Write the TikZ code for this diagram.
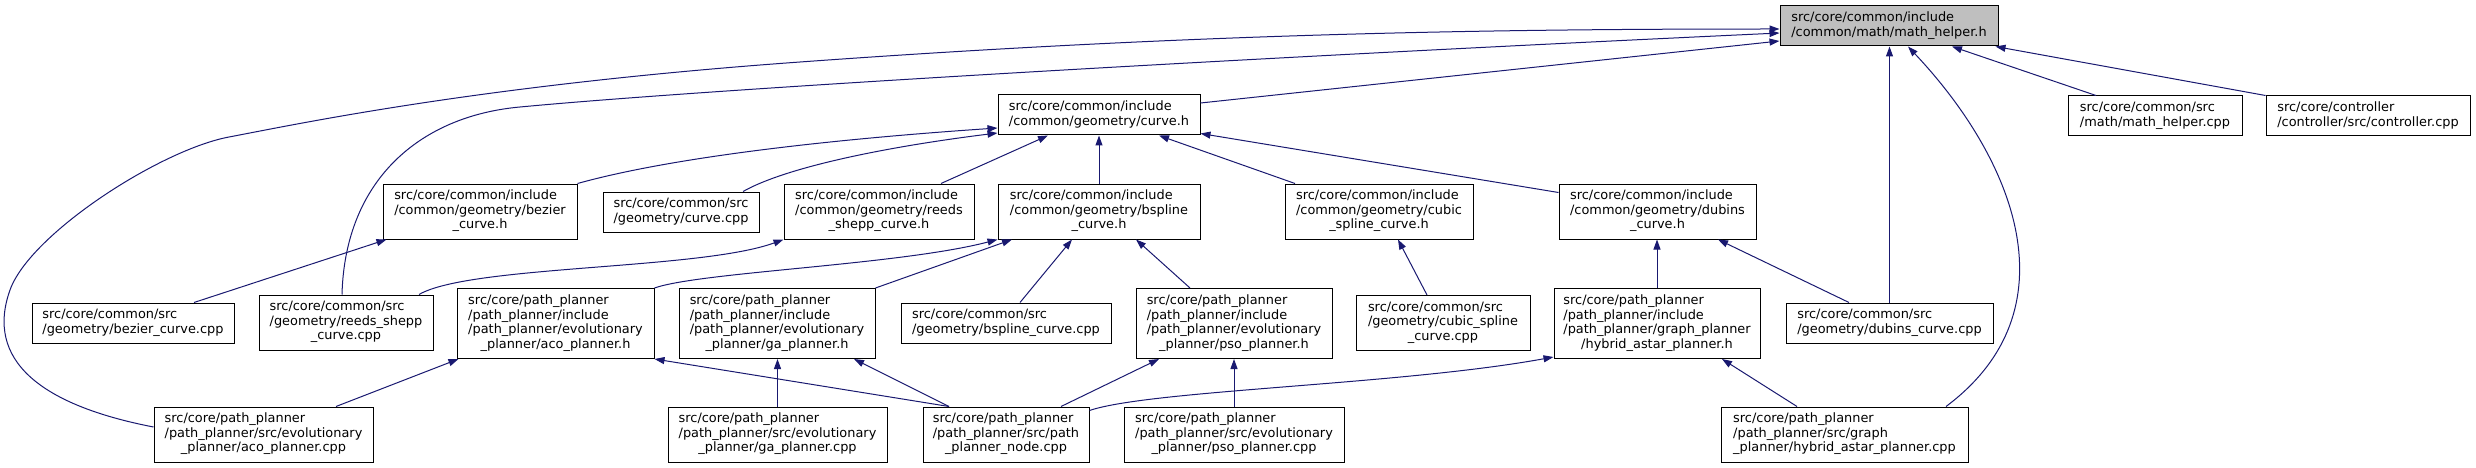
\documentclass[tikz,border=0pt]{standalone}
\usepackage{fontspec}
\setmainfont{DejaVu Sans}
\usetikzlibrary{arrows.meta, calc}
\definecolor{edgeblue}{HTML}{191970}
\definecolor{curgrey}{HTML}{BFBFBF}
\newcommand{\flab}[2]{\begin{tabular}{@{}l@{}}#1\\\multicolumn{1}{@{}c@{}}{#2}\end{tabular}}

\begin{document}
\begin{tikzpicture}[
    x=1pt, y=-1pt,
    filebox/.style={draw=black, line width=1pt, fill=white, inner sep=0pt,
        font=\fontsize{12.9}{14.5}\selectfont},
    sz/.style 2 args={minimum width=#1pt, minimum height=#2pt},
    dep/.style={-{Triangle[length=10pt, width=7pt]}, draw=edgeblue, fill=none,
        line width=1pt}
]
\useasboundingbox (0,0) rectangle (2476,468);

\node[filebox, sz={218}{40}, fill=curgrey] (mathh) at (1889,26)
    {\flab{src/core/common/include}{/common/math/math\_helper.h}};
\node[filebox, sz={202}{40}] (curveh) at (1099,115)
    {\flab{src/core/common/include}{/common/geometry/curve.h}};
\node[filebox, sz={174}{40}] (mathcpp) at (2155,116)
    {\flab{src/core/common/src}{/math/math\_helper.cpp}};
\node[filebox, sz={204}{40}] (ctrlcpp) at (2368,116)
    {\flab{src/core/controller}{/controller/src/controller.cpp}};

\node[filebox, sz={194}{55}] (bezh) at (480,211.5)
    {\flab{src/core/common/include\\/common/geometry/bezier}{\_curve.h}};
\node[filebox, sz={156}{40}] (curvecpp) at (681,212)
    {\flab{src/core/common/src}{/geometry/curve.cpp}};
\node[filebox, sz={190}{55}] (reedsh) at (879,211.5)
    {\flab{src/core/common/include\\/common/geometry/reeds}{\_shepp\_curve.h}};
\node[filebox, sz={202}{55}] (bsplh) at (1099,211.5)
    {\flab{src/core/common/include\\/common/geometry/bspline}{\_curve.h}};
\node[filebox, sz={188}{55}] (cubich) at (1379,211.5)
    {\flab{src/core/common/include\\/common/geometry/cubic}{\_spline\_curve.h}};
\node[filebox, sz={197}{55}] (dubinsh) at (1657.5,211.5)
    {\flab{src/core/common/include\\/common/geometry/dubins}{\_curve.h}};

\node[filebox, sz={202}{40}] (bezcpp) at (133,323)
    {\flab{src/core/common/src}{/geometry/bezier\_curve.cpp}};
\node[filebox, sz={174}{55}] (reedscpp) at (346,322.5)
    {\flab{src/core/common/src\\/geometry/reeds\_shepp}{\_curve.cpp}};
\node[filebox, sz={197}{70}] (acoh) at (555.5,323.5)
    {\flab{src/core/path\_planner\\/path\_planner/include\\/path\_planner/evolutionary}{\_planner/aco\_planner.h}};
\node[filebox, sz={196}{70}] (gah) at (777,323.5)
    {\flab{src/core/path\_planner\\/path\_planner/include\\/path\_planner/evolutionary}{\_planner/ga\_planner.h}};
\node[filebox, sz={210}{40}] (bsplcpp) at (1006,323)
    {\flab{src/core/common/src}{/geometry/bspline\_curve.cpp}};
\node[filebox, sz={196}{70}] (psoh) at (1234,323.5)
    {\flab{src/core/path\_planner\\/path\_planner/include\\/path\_planner/evolutionary}{\_planner/pso\_planner.h}};
\node[filebox, sz={174}{55}] (cubiccpp) at (1443,323)
    {\flab{src/core/common/src\\/geometry/cubic\_spline}{\_curve.cpp}};
\node[filebox, sz={206}{70}] (hybridh) at (1657,323.5)
    {\flab{src/core/path\_planner\\/path\_planner/include\\/path\_planner/graph\_planner}{/hybrid\_astar\_planner.h}};
\node[filebox, sz={207}{40}] (dubinscpp) at (1889.5,323)
    {\flab{src/core/common/src}{/geometry/dubins\_curve.cpp}};

\node[filebox, sz={219}{55}] (acocpp) at (263.5,434.5)
    {\flab{src/core/path\_planner\\/path\_planner/src/evolutionary}{\_planner/aco\_planner.cpp}};
\node[filebox, sz={219}{55}] (gacpp) at (777.5,434.5)
    {\flab{src/core/path\_planner\\/path\_planner/src/evolutionary}{\_planner/ga\_planner.cpp}};
\node[filebox, sz={166}{55}] (nodecpp) at (1006,434.5)
    {\flab{src/core/path\_planner\\/path\_planner/src/path}{\_planner\_node.cpp}};
\node[filebox, sz={220}{55}] (psocpp) at (1234,434.5)
    {\flab{src/core/path\_planner\\/path\_planner/src/evolutionary}{\_planner/pso\_planner.cpp}};
\node[filebox, sz={247}{55}] (hybridcpp) at (1844.5,434.5)
    {\flab{src/core/path\_planner\\/path\_planner/src/graph}{\_planner/hybrid\_astar\_planner.cpp}};

\draw[dep] ($(curveh.east)+(0,-12)$) -- ($(mathh.west)+(0,15)$);
\draw[dep] ($(reedscpp.north)+(-4,0)$) .. controls (345,180) and (420,116) .. (520,107)
    .. controls (700,90) and (1200,60) .. ($(mathh.west)+(0,7)$);
\draw[dep] ($(acocpp.west)+(0,-7.5)$) .. controls (40,405) and (-15,360) .. (10,290)
    .. controls (30,234) and (160,150) .. (229,137)
    .. controls (298,124) and (480,85) .. (800,62)
    .. controls (1200,33) and (1500,29) .. ($(mathh.west)+(0,3)$);
\draw[dep] ($(mathcpp.north)+(-59,0)$) -- ($(mathh.south)+(63,0)$);
\draw[dep] (ctrlcpp.north west) -- ($(mathh.south east)+(-3,0)$);
\draw[dep] (dubinscpp.north) -- (dubinscpp.north |- mathh.south);
\draw[dep] ($(hybridcpp.north)+(101.5,0)$) .. controls (2075,310) and (2015,160) .. ($(mathh.south)+(19,0)$);

\draw[dep] (bezh.north east) .. controls (680,155) and (850,138) .. ($(curveh.west)+(0,13)$);
\draw[dep] ($(curvecpp.north)+(62,0)$) .. controls (790,165) and (900,145) .. ($(curveh.west)+(0,18)$);
\draw[dep] ($(reedsh.north)+(62,0)$) -- ($(curveh.south)+(-51,0)$);
\draw[dep] (bsplh.north) -- (curveh.south);
\draw[dep] ($(cubich.north)+(-84,0)$) -- ($(curveh.south)+(60,0)$);
\draw[dep] ($(dubinsh.north west)+(0,9)$) -- ($(curveh.south east)+(0,-2)$);

\draw[dep] ($(bezcpp.north)+(61,0)$) -- ($(bezh.south west)+(4,0)$);
\draw[dep] ($(reedscpp.north)+(73,0)$) .. controls (470,265) and (700,270) .. (reedsh.south west);
\draw[dep] (acoh.north east) .. controls (700,272) and (900,265) .. (bsplh.south west);
\draw[dep] (gah.north east) -- ($(bsplh.south)+(-87,0)$);
\draw[dep] ($(bsplcpp.north)+(14,0)$) -- ($(bsplh.south)+(-27,0)$);
\draw[dep] ($(psoh.north)+(-44,0)$) -- ($(bsplh.south)+(37,0)$);
\draw[dep] ($(cubiccpp.north)+(-16,0)$) -- ($(cubich.south)+(19,0)$);
\draw[dep] (hybridh.north) -- (hybridh.north |- dubinsh.south);
\draw[dep] ($(dubinscpp.north)+(-40.5,0)$) -- ($(dubinsh.south)+(60.5,0)$);

\draw[dep] ($(acocpp.north)+(72.5,0)$) -- ($(acoh.south west)+(2,0)$);
\draw[dep] ($(nodecpp.north)+(-57,0)$) -- (acoh.south east);
\draw[dep] (gacpp.north) -- (gacpp.north |- gah.south);
\draw[dep] ($(nodecpp.north)+(-57,0)$) -- ($(gah.south)+(77,0)$);
\draw[dep] ($(nodecpp.north)+(55,0)$) -- ($(psoh.south)+(-75,0)$);
\draw[dep] (psocpp.north) -- (psoh.south);
\draw[dep] ($(nodecpp.north east)+(0,4)$) .. controls (1150,390) and (1400,385) .. ($(hybridh.south west)+(0,-2)$);
\draw[dep] ($(hybridcpp.north)+(-47.5,0)$) -- ($(hybridh.south)+(65,0)$);
\end{tikzpicture}
\end{document}
